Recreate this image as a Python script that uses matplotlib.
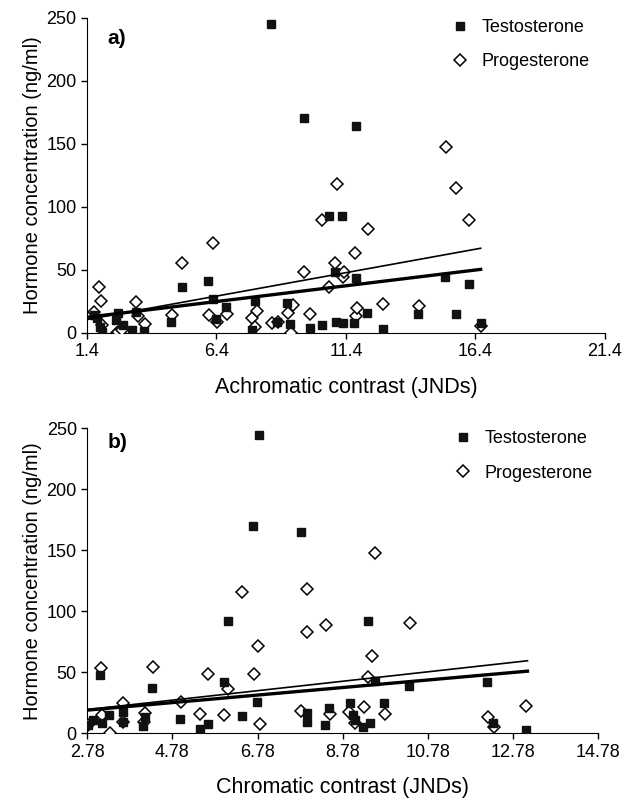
import matplotlib
matplotlib.use("Agg")
import matplotlib.pyplot as plt
import numpy as np

plt.rcParams['font.family'] = ['Liberation Sans', 'DejaVu Sans']

# ---- Panel a: achromatic contrast ----
a_testo_x = [1.68, 1.77, 1.90, 1.97, 2.52, 2.61, 2.80, 3.13, 3.28, 3.61, 4.64, 5.06, 6.09, 6.25,
             6.38, 6.77, 7.78, 7.89, 8.49, 8.72, 9.13, 9.24, 9.77, 10.01, 10.46, 10.74, 10.98,
             11.01, 11.26, 11.27, 11.72, 11.77, 11.79, 12.22, 12.82, 14.19, 15.22, 15.63, 16.15, 16.6]
a_testo_y = [14, 11.4, 4.8, 0.5, 10, 15.4, 6, 2, 16.7, 1.6, 8.8, 36.5, 41.3, 26.5,
             10.9, 20.1, 2, 25.2, 244.7, 8.7, 23.8, 6.9, 170.4, 3.5, 6.1, 92.6, 48.4,
             8.8, 92.6, 7.4, 7.4, 164.3, 43.2, 15.9, 2.7, 14.6, 44, 14.6, 38.4, 7.4]

a_prog_x = [1.68, 1.875, 1.94, 1.97, 2.55, 2.61, 2.74, 3.30, 3.36, 3.64, 4.67, 5.08, 6.11, 6.28,
            6.41, 6.79, 7.79, 7.95, 7.89, 8.53, 8.79, 9.17, 9.26, 9.37, 9.78, 10.01, 10.46,
            10.76, 10.98, 11.06, 11.30, 11.32, 11.75, 11.79, 11.81, 12.26, 12.84, 14.22,
            15.26, 15.65, 16.16, 16.6]
a_prog_y = [16.7, 36.3, 25.2, 6.1, 0, 0.5, 2, 24.6, 13.5, 6.9, 14, 55, 14, 71.5,
            8.2, 14.6, 11.6, 17.2, 4.8, 7.4, 8.7, 15.9, 0, 22, 47.9, 14.8, 89.4,
            36.5, 55, 117.8, 44.4, 48.4, 63.5, 13.5, 19.4, 82.3, 22.5, 21.4,
            147, 115, 89.4, 5.3]

# trend lines (slope, intercept, x-span)
a_testo_fit = (2.5, 8.8)
a_prog_fit = (3.72, 5.3)
a_fit_span = [1.4, 16.6]

# ---- Panel b: chromatic contrast ----
b_testo_x = [2.80, 2.92, 3.08, 3.12, 3.29, 3.61, 3.61, 4.10, 4.14, 4.31, 4.96, 5.43, 5.61, 5.98,
             6.08, 6.41, 6.68, 6.77, 6.81, 7.80, 7.95, 7.95, 8.36, 8.46, 8.95, 9.03, 9.07,
             9.26, 9.37, 9.43, 9.55, 9.75, 10.34, 12.16, 12.30, 13.09]
b_testo_y = [6.8, 10.9, 47.8, 8.7, 15, 17.7, 9, 6.2, 13.6, 36.9, 11.5, 3.5, 7.6, 42.3,
             92, 14.2, 169.9, 25.9, 244.5, 165.2, 16.4, 9, 6.8, 21, 24.6, 15, 10.9,
             5.4, 92, 8.2, 43.1, 25.1, 38.8, 42.3, 8.2, 2.7]

b_prog_x = [2.80, 3.10, 3.12, 3.31, 3.61, 3.63, 4.12, 4.14, 4.32, 4.98, 5.43, 5.61, 6.00, 6.09,
            6.41, 6.70, 6.80, 6.84, 7.80, 7.95, 7.95, 8.38, 8.48, 8.93, 9.07, 9.27, 9.38,
            9.46, 9.55, 9.77, 10.36, 12.19, 12.33, 13.09]
b_prog_y = [6.8, 53.8, 15, 0, 24.6, 9.5, 9.5, 16.4, 54.6, 25.4, 15.8, 48.6, 15, 36.3,
            115.6, 48.6, 71.6, 7.4, 18.3, 118.3, 82.8, 88.8, 15.6, 17.7, 8.2, 21.8, 45.9,
            63.4, 147.5, 15.8, 90.2, 13.6, 5.4, 22.4]

b_testo_fit = (3.09, 10.4)
b_prog_fit = (3.87, 8.7)
b_fit_span = [2.78, 13.12]

a_xticks = [1.4, 6.4, 11.4, 16.4, 21.4]
b_xticks = [2.78, 4.78, 6.78, 8.78, 10.78, 12.78, 14.78]
yticks = [0, 50, 100, 150, 200, 250]

fig = plt.figure(figsize=(6.23, 8.0), dpi=100)
ax_a = fig.add_axes([0.1396, 0.584, 0.8315, 0.394])
ax_b = fig.add_axes([0.1401, 0.0834, 0.820, 0.381])


def draw(ax, tx, ty, px, py, tfit, pfit, span, xticks, xlabel, tag, leg_x, tag_y):
    ax.plot(px, py, linestyle='none', marker='D', markersize=6.2, markerfacecolor='white',
            markeredgecolor='black', markeredgewidth=1.1, label='Progesterone', zorder=3)
    ax.plot(tx, ty, linestyle='none', marker='s', markersize=6.3, color='#111111',
            label='Testosterone', zorder=4)
    xs = np.array(span)
    ax.plot(xs, tfit[0] * xs + tfit[1], color='black', lw=2.4, zorder=5)
    ax.plot(xs, pfit[0] * xs + pfit[1], color='black', lw=1.2, zorder=5)
    ax.set_xlim(xticks[0], xticks[-1])
    ax.set_ylim(0, 250)
    ax.set_xticks(xticks)
    ax.set_xticklabels([f"{t:g}" for t in xticks])
    ax.set_yticks(yticks)
    ax.spines['top'].set_visible(False)
    ax.spines['right'].set_visible(False)
    ax.tick_params(direction='out', length=4, width=1, labelsize=13)
    ax.set_xlabel(xlabel, fontsize=15.5, labelpad=12)
    ax.set_ylabel('Hormone concentration (ng/ml)', fontsize=14.5, labelpad=3)
    handles, labels = ax.get_legend_handles_labels()
    ax.legend(handles[::-1], labels[::-1], loc='upper left', bbox_to_anchor=(leg_x, 1.035),
              frameon=False, fontsize=13, handletextpad=0.2, borderaxespad=0.3,
              labelspacing=0.95, markerscale=1.0)
    ax.text(0.04, tag_y, tag, transform=ax.transAxes, fontsize=15, fontweight='bold',
            va='top', ha='left')


draw(ax_a, a_testo_x, a_testo_y, a_prog_x, a_prog_y, a_testo_fit, a_prog_fit, a_fit_span,
     a_xticks, 'Achromatic contrast (JNDs)', 'a)', 0.66, 0.965)
draw(ax_b, b_testo_x, b_testo_y, b_prog_x, b_prog_y, b_testo_fit, b_prog_fit, b_fit_span,
     b_xticks, 'Chromatic contrast (JNDs)', 'b)', 0.675, 0.985)

fig.savefig('out.png', dpi=100)
